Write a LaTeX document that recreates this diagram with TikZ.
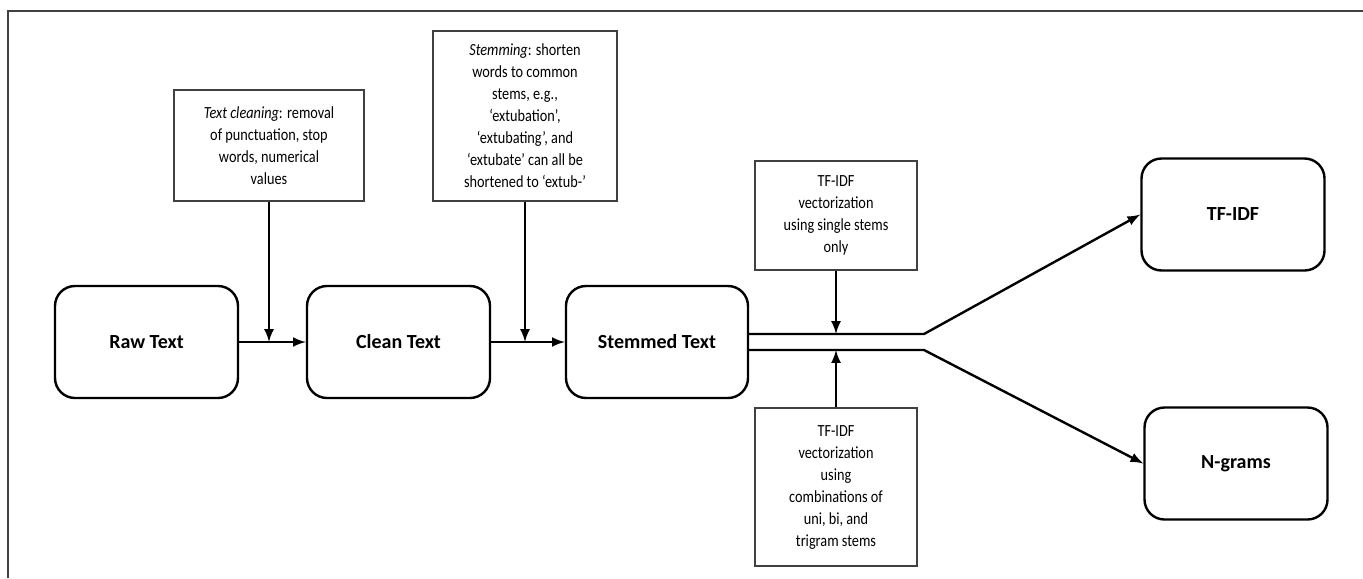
\documentclass[tikz,border=0pt]{standalone}
\usepackage{fontspec}
\setmainfont{Carlito}
\newfontfamily\notefont{Carlito}[FakeStretch=0.84]
\usepackage{xcolor}
\usepackage{tikz}
\usetikzlibrary{shapes,arrows,positioning}

\begin{document}
\begin{tikzpicture}[
    x=0.5pt, y=-0.5pt,
    stage/.style={rectangle, rounded corners=10pt, draw=black, line width=1.2pt, minimum width=91.5pt, minimum height=56pt, font=\fontsize{10}{12}\selectfont\bfseries},
    note/.style={rectangle, draw=black!75, line width=0.7pt, align=center, inner sep=2pt, font=\notefont\fontsize{8.5}{11}\selectfont},
    edge/.style={->, >=latex, line width=1.2pt},
    frame/.style={draw=black!75, line width=1pt}
]
\useasboundingbox (0,0) rectangle (1363,578);

% Outer frame (open to the right and below)
\draw[frame] (8,578) -- (8,11) -- (1363,11);

% Pipeline stages
\node[stage] (raw) at (146.5,342) {Raw Text};
\node[stage] (clean) at (398.5,342) {Clean Text};
\node[stage, minimum width=91pt] (stem) at (657,342) {Stemmed Text};
\node[stage] (tfidf) at (1233,214.5) {TF-IDF};
\node[stage] (ngrams) at (1236,463.5) {N-grams};

% Processing notes
\node[note, minimum width=95pt, minimum height=55.5pt] (cleannote) at (269,145.5)
    {\textit{Text cleaning}: removal\\ of punctuation, stop\\ words, numerical\\ values};
\node[note, minimum width=92pt, minimum height=85pt] (stemnote) at (525,116)
    {\textit{Stemming}: shorten\\ words to common\\ stems, e.g.,\\ ‘extubation’,\\ ‘extubating’, and\\ ‘extubate’ can all be\\ shortened to ‘extub-’};
\node[note, minimum width=81pt, minimum height=54.5pt] (singlenote) at (836,215.5)
    {TF-IDF\\ vectorization\\ using single stems\\ only};
\node[note, minimum width=81pt, minimum height=79pt] (combonote) at (836,487)
    {TF-IDF\\ vectorization\\ using\\ combinations of\\ uni, bi, and\\ trigram stems};

% Split points
\coordinate (up) at (924,334);
\coordinate (low) at (924,350);

% Main flow
\draw[edge] (raw) -- (clean);
\draw[edge] (clean) -- (stem);
\draw[edge] (stem.east |- up) -- (up) -- (tfidf.west);
\draw[edge] (stem.east |- low) -- (low) -- (ngrams.west);

% Notes feeding the flow
\draw[edge] (cleannote.south) -- (cleannote.south |- raw.east);
\draw[edge] (stemnote.south) -- (stemnote.south |- clean.east);
\draw[edge] (singlenote.south) -- (singlenote.south |- up);
\draw[edge] (combonote.north) -- (combonote.north |- low);

\end{tikzpicture}
\end{document}
